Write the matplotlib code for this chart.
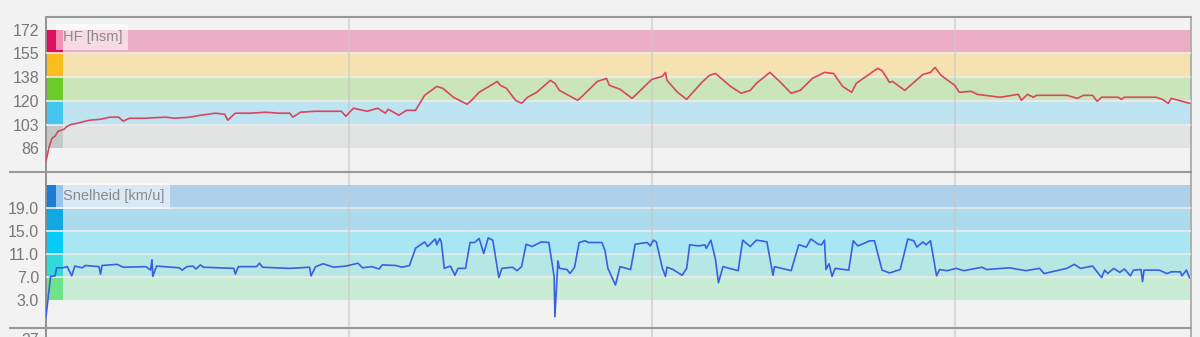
import matplotlib.pyplot as plt
import numpy as np

# Data
hf_time = [0.0, 0.2, 0.4, 0.6, 0.8, 1.0, 1.2, 1.4, 1.7, 2.1, 2.6, 2.9, 3.6, 4.2, 4.8, 5.1, 5.5,
           6.5, 7.9, 8.5, 9.5, 10.2, 11.2, 11.8, 12.0, 12.5, 13.5, 14.5, 15.4, 16.1, 16.3, 16.8,
           17.8, 18.7, 19.5, 19.8, 20.3, 21.2, 21.9, 22.4, 22.6, 23.3, 23.8, 24.4, 25.0, 25.8,
           26.2, 26.9, 27.8, 28.1, 28.6, 29.8, 30.0, 30.4, 31.0, 31.4, 31.8, 32.4, 33.3, 33.6,
           33.9, 35.1, 35.4, 36.4, 37.0, 37.2, 37.9, 38.7, 40.0, 40.7, 40.9, 41.0, 41.7, 42.3,
           43.3, 43.8, 44.2, 45.2, 45.9, 46.5, 46.9, 47.8, 48.5, 49.2, 49.8, 50.6, 51.4, 52.0,
           52.6, 53.2, 53.5, 54.9, 55.2, 55.7, 55.9, 56.7, 57.0, 57.9, 58.4, 58.7, 59.1, 60.0,
           60.3, 61.1, 61.5, 63.0, 64.2, 64.4, 64.8, 65.2, 65.4, 67.4, 68.1, 68.5, 69.1, 69.4,
           69.7, 70.8, 71.0, 71.2, 73.3, 73.7, 74.1, 74.3, 75.5]
hf_bpm = [76.6, 86.7, 93.2, 94.7, 98.3, 99.0, 99.8, 101.9, 103.4, 104.1, 105.6, 106.3, 107.0,
          108.5, 108.5, 105.6, 107.7, 107.7, 108.5, 107.7, 108.5, 109.9, 111.4, 110.6, 106.3,
          111.4, 111.4, 112.1, 111.4, 111.4, 108.5, 112.1, 112.8, 112.8, 112.8, 109.2, 115.0,
          112.8, 115.0, 111.4, 114.3, 109.9, 113.5, 113.5, 124.4, 130.9, 129.5, 123.0, 117.9,
          120.8, 126.6, 134.5, 131.7, 129.5, 120.8, 118.6, 123.0, 126.6, 135.3, 133.1, 128.0,
          120.8, 123.7, 134.5, 136.7, 131.7, 128.8, 122.2, 136.0, 138.2, 141.1, 135.3, 126.6,
          121.5, 133.8, 138.9, 140.3, 130.9, 125.9, 128.0, 133.1, 141.1, 133.8, 125.9, 128.0,
          136.7, 141.1, 140.3, 130.9, 126.6, 133.1, 144.0, 142.5, 133.8, 134.5, 128.0, 130.9,
          139.6, 141.1, 144.7, 138.9, 131.7, 126.6, 127.3, 125.1, 123.0, 125.1, 120.8, 125.1,
          123.0, 124.4, 124.4, 122.2, 124.4, 124.4, 120.1, 123.0, 123.0, 121.5, 123.0, 123.0,
          121.5, 118.6, 122.2, 118.6]

speed_time = [0.0, 0.3, 0.6, 0.7, 1.1, 1.4, 1.7, 1.9, 2.4, 2.6, 3.5, 3.6, 3.7, 4.7, 5.1, 6.6,
              6.9, 7.0, 7.05, 7.3, 8.8, 9.0, 9.3, 9.7, 9.9, 10.2, 10.4, 12.4, 12.5, 12.7, 13.9,
              14.1, 14.3, 16.1, 17.4, 17.5, 17.8, 18.3, 19.0, 19.8, 20.6, 20.9, 21.5, 22.0, 22.2,
              23.1, 23.5, 24.0, 24.4, 25.0, 25.2, 25.5, 25.7, 25.8, 26.0, 26.1, 26.3, 26.7, 27.0,
              27.2, 27.7, 28.0, 28.3, 28.6, 28.9, 29.2, 29.5, 29.9, 30.1, 30.8, 31.1, 31.4, 31.7,
              32.1, 32.7, 33.2, 33.55, 33.6, 33.8, 33.9, 34.4, 34.6, 34.9, 35.2, 35.6, 35.8, 36.7,
              36.9, 37.1, 37.6, 37.9, 38.6, 38.9, 39.7, 39.9, 40.1, 40.3, 40.7, 40.9, 41.0, 41.4,
              42.0, 42.3, 42.5, 43.1, 43.5, 43.6, 43.9, 44.2, 44.4, 44.7, 45.7, 46.0, 46.5, 46.9,
              47.2, 47.6, 48.0, 48.1, 49.2, 49.7, 50.2, 50.5, 51.0, 51.2, 51.4, 51.5, 51.7, 51.9,
              52.1, 53.0, 53.3, 53.6, 54.4, 54.7, 55.2, 55.7, 56.4, 56.9, 57.3, 57.5, 57.9, 58.1,
              58.4, 58.8, 59.0, 59.5, 60.1, 60.6, 61.8, 62.1, 63.6, 64.7, 65.6, 65.9, 67.4, 67.9,
              68.3, 69.1, 69.7, 69.9, 70.1, 70.5, 70.9, 71.2, 71.6, 71.8, 72.3, 72.4, 72.5, 73.5,
              74.0, 74.3, 74.9, 75.0, 75.3, 75.5]
speed_kmh = [0.1, 7.1, 7.2, 8.6, 8.6, 8.8, 7.2, 8.9, 8.6, 9.0, 8.8, 7.5, 9.0, 9.2, 8.7, 8.8,
             8.2, 10.0, 7.1, 8.9, 8.6, 8.2, 8.8, 8.9, 8.4, 9.1, 8.7, 8.5, 7.5, 8.8, 8.8,
             9.4, 8.7, 8.5, 8.7, 7.2, 8.8, 9.3, 8.7, 8.9, 9.4, 8.6, 8.8, 8.4, 9.1,
             9.0, 8.7, 9.0, 12.0, 13.1, 12.3, 13.1, 13.6, 12.6, 13.7, 13.1, 8.5, 8.9, 7.3,
             8.5, 8.5, 13.0, 13.0, 13.7, 11.1, 13.8, 13.4, 6.9, 8.5, 8.7, 8.1, 8.8, 12.7,
             12.3, 13.1, 13.0, 7.1, 0.1, 9.8, 8.5, 8.3, 7.6, 8.7, 13.0, 13.3, 13.0, 13.0,
             11.7, 8.5, 5.6, 8.8, 8.3, 12.7, 13.0, 12.4, 13.4, 13.1, 8.5, 7.1, 8.7, 8.3,
             7.3, 8.5, 12.6, 12.4, 12.6, 12.0, 13.4, 10.1, 6.0, 8.8, 8.1, 13.4, 12.3, 13.4,
             13.3, 13.1, 7.3, 8.8, 8.1, 12.6, 12.2, 13.6, 12.7, 12.6, 13.4, 8.3, 9.3, 7.1,
             8.5, 8.2, 13.3, 12.4, 13.3, 13.3, 8.2, 7.7, 8.3, 13.6, 13.3, 12.2, 13.1, 12.6,
             13.3, 7.2, 8.3, 8.1, 8.5, 8.1, 8.7, 8.3, 8.6, 8.1, 8.5, 7.6, 8.5, 9.2,
             8.5, 8.9, 6.9, 8.2, 7.6, 8.5, 7.8, 8.4, 7.2, 8.2, 8.3, 6.2, 8.2, 8.2,
             7.6, 7.9, 7.9, 7.2, 8.2, 6.9]

# zones (bottom to top)
hf_zones = [86, 103, 120, 138, 155, 172]
hf_strip_colors = ['#c3c9c9', '#45c6ee', '#6dcc2c', '#f9bd1e', '#e0105e']
hf_band_colors = ['#e2e4e3', '#bee3f1', '#cae6b8', '#f5e2b0', '#ecaec4']

speed_zones = [3, 7, 11, 15, 19, 23]
speed_ticks = [3.0, 7.0, 11.0, 15.0, 19.0]
speed_strip_colors = ['#6ee38a', '#32d9da', '#05cbf6', '#12a8e2', '#1a7ed6']
speed_band_colors = ['#c9ecd4', '#b5e7e5', '#a9e6f4', '#acdbee', '#afd0ea']

grid_times = [20, 40, 60]
x_max = 75.6

bg = '#f2f2f2'
plt.rcParams['font.family'] = ['Liberation Sans', 'DejaVu Sans']

fig = plt.figure(figsize=(12, 3.37), dpi=100, facecolor=bg)
ax1 = fig.add_axes([46 / 1200, 165 / 337, 1145 / 1200, 155 / 337])
ax2 = fig.add_axes([46 / 1200, 9 / 337, 1145 / 1200, 156 / 337])
ax3 = fig.add_axes([46 / 1200, -101 / 337, 1145 / 1200, 110 / 337])

strip_w = 17 / 1145


def draw_zones(ax, zones, strips, bands):
    for i in range(len(zones) - 1):
        ax.axhspan(zones[i], zones[i + 1], color=bands[i], lw=0, zorder=1)
        ax.axhspan(zones[i], zones[i + 1], xmin=0, xmax=strip_w, color=strips[i], lw=0, zorder=2)
    for z in zones[1:-1]:
        ax.axhline(z, color='#ececec', lw=1.2, zorder=3)


def style(ax):
    ax.set_facecolor(bg)
    ax.set_xlim(0, x_max)
    ax.set_xticks([])
    for t in grid_times:
        ax.axvline(t, color='#c8c8c8', lw=1.5, alpha=0.6, zorder=4)
    for s in ['top', 'bottom']:
        ax.spines[s].set_visible(False)
    ax.spines['left'].set_color('#888888')
    ax.spines['left'].set_linewidth(1.3)
    ax.spines['right'].set_color('#aaaaaa')
    ax.spines['right'].set_linewidth(1.3)
    ax.tick_params(axis='y', length=0, pad=5, labelsize=11.5, labelcolor='#777777')


# HF panel
style(ax1)
draw_zones(ax1, hf_zones, hf_strip_colors, hf_band_colors)
ax1.plot(hf_time, hf_bpm, color='#d8475f', lw=1.2, zorder=5)
ax1.set_ylim(68.6, 181.4)
ax1.set_yticks(hf_zones)
ax1.set_yticklabels([str(z) for z in hf_zones])
ax1.text(1.1, 167, 'HF [hsm]', fontsize=10.5, color='#8a8a8a', va='center', zorder=6,
         bbox=dict(facecolor='white', alpha=0.55, edgecolor='none', pad=4.5))

# Speed panel
style(ax2)
draw_zones(ax2, speed_zones, speed_strip_colors, speed_band_colors)
ax2.plot(speed_time, speed_kmh, color='#3a5fe0', lw=1.2, zorder=5)
ax2.set_ylim(-1.87, 25.26)
ax2.set_yticks(speed_ticks)
ax2.set_yticklabels(['%.1f' % v for v in speed_ticks])
ax2.text(1.1, 21.1, 'Snelheid [km/u]', fontsize=10.5, color='#8a8a8a', va='center', zorder=6,
         bbox=dict(facecolor='white', alpha=0.55, edgecolor='none', pad=4.5))

# next panel (cut off)
style(ax3)
ax3.set_ylim(0, 30)
ax3.set_yticks([27])

# frame lines
fig.add_artist(plt.Line2D([46 / 1200, 1191 / 1200], [320 / 337, 320 / 337], color='#999999', lw=1.5))
for y in [165, 9]:
    fig.add_artist(plt.Line2D([10 / 1200, 1191 / 1200], [y / 337, y / 337], color='#999999', lw=1.5))

plt.savefig('out.png', dpi=100, facecolor=bg)
